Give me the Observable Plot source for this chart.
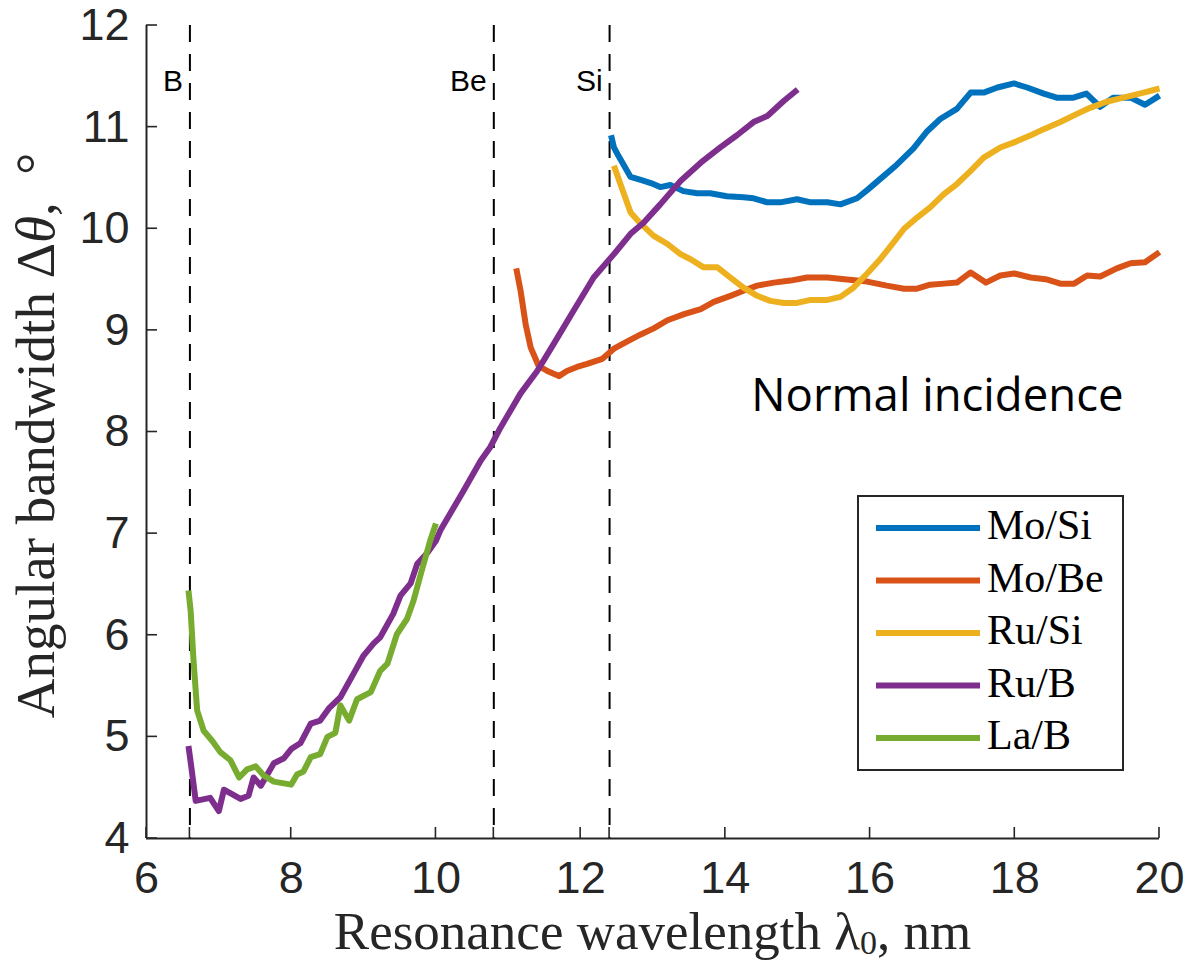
<!DOCTYPE html>
<html>
<head>
<meta charset="utf-8">
<script src="https://cdn.jsdelivr.net/npm/d3@7"></script>
<script src="https://cdn.jsdelivr.net/npm/@observablehq/plot@0.6"></script>
<style>
  body { margin: 0; background: #fff; }
</style>
</head>
<body>
<div id="chart"></div>
<script>
// Multilayer mirror angular bandwidth vs. resonance wavelength (normal incidence)
const seriesNames = ["Mo/Si", "Mo/Be", "Ru/Si", "Ru/B", "La/B"];
const seriesColors = ["#0072BD", "#D95319", "#EDB120", "#7E2F8E", "#77AC30"];

// [wavelength nm, bandwidth deg]
const moSi = [
  [12.42,10.92],[12.46,10.80],[12.52,10.72],[12.57,10.66],[12.69,10.51],[12.83,10.48],[12.97,10.45],
  [13.10,10.41],[13.24,10.43],[13.42,10.37],[13.61,10.35],[13.79,10.35],[14.02,10.32],[14.25,10.31],
  [14.39,10.30],[14.58,10.26],[14.76,10.26],[14.99,10.29],[15.18,10.26],[15.41,10.26],[15.59,10.24],
  [15.82,10.30],[15.96,10.38],[16.19,10.52],[16.37,10.63],[16.60,10.79],[16.79,10.96],[16.97,11.08],
  [17.20,11.18],[17.39,11.34],[17.57,11.34],[17.76,11.39],[17.99,11.43],[18.17,11.39],[18.40,11.33],
  [18.58,11.29],[18.81,11.29],[18.99,11.33],[19.18,11.20],[19.36,11.29],[19.60,11.29],[19.80,11.22],
  [20.00,11.31]
];
const moBe = [
  [11.11,9.61],[11.17,9.39],[11.24,9.06],[11.31,8.83],[11.42,8.65],[11.54,8.60],[11.70,8.55],
  [11.81,8.60],[11.95,8.64],[12.09,8.67],[12.30,8.72],[12.46,8.82],[12.64,8.89],[12.83,8.96],
  [13.01,9.02],[13.20,9.10],[13.43,9.16],[13.66,9.21],[13.84,9.28],[14.07,9.34],[14.25,9.39],
  [14.44,9.44],[14.67,9.47],[14.90,9.49],[15.13,9.52],[15.41,9.52],[15.68,9.50],[15.96,9.48],
  [16.23,9.44],[16.47,9.41],[16.65,9.41],[16.83,9.45],[17.02,9.46],[17.20,9.47],[17.39,9.57],
  [17.60,9.47],[17.80,9.54],[17.99,9.56],[18.22,9.52],[18.45,9.50],[18.63,9.46],[18.82,9.46],
  [19.00,9.54],[19.18,9.53],[19.41,9.61],[19.60,9.66],[19.80,9.67],[20.00,9.77]
];
const ruSi = [
  [12.46,10.62],[12.50,10.54],[12.60,10.34],[12.69,10.16],[12.83,10.05],[13.01,9.93],[13.20,9.85],
  [13.38,9.75],[13.52,9.70],[13.70,9.62],[13.89,9.62],[14.07,9.52],[14.25,9.42],[14.44,9.34],
  [14.62,9.29],[14.81,9.27],[14.99,9.27],[15.18,9.30],[15.41,9.30],[15.59,9.33],[15.77,9.42],
  [15.96,9.56],[16.14,9.70],[16.33,9.87],[16.47,10.00],[16.65,10.11],[16.83,10.21],[17.02,10.34],
  [17.20,10.44],[17.39,10.57],[17.57,10.70],[17.80,10.80],[17.99,10.85],[18.22,10.92],[18.40,10.98],
  [18.63,11.05],[18.86,11.13],[19.04,11.19],[19.27,11.25],[19.50,11.29],[19.78,11.34],[20.00,11.38]
];
const ruB = [
  [6.58,4.91],[6.62,4.70],[6.68,4.37],[6.88,4.40],[7.00,4.27],[7.07,4.48],[7.30,4.39],[7.41,4.42],
  [7.48,4.60],[7.58,4.52],[7.76,4.74],[7.90,4.79],[8.00,4.88],[8.13,4.94],[8.27,5.13],[8.40,5.16],
  [8.52,5.28],[8.68,5.39],[8.86,5.62],[9.00,5.80],[9.14,5.92],[9.23,5.98],[9.41,6.21],[9.51,6.39],
  [9.65,6.51],[9.74,6.70],[9.88,6.81],[10.00,6.93],[10.06,7.03],[10.38,7.42],[10.62,7.72],
  [10.75,7.85],[10.89,8.04],[11.17,8.38],[11.40,8.60],[11.63,8.87],[11.90,9.19],[12.18,9.52],
  [12.46,9.75],[12.69,9.95],[12.87,10.06],[13.10,10.24],[13.38,10.47],[13.66,10.65],[13.93,10.80],
  [14.16,10.92],[14.39,11.05],[14.58,11.11],[14.81,11.26],[15.00,11.37]
];
const laB = [
  [6.58,6.44],[6.61,6.24],[6.65,5.75],[6.70,5.26],[6.79,5.06],[6.91,4.96],[7.02,4.85],[7.16,4.77],
  [7.28,4.60],[7.39,4.68],[7.51,4.71],[7.62,4.62],[7.76,4.56],[8.00,4.53],[8.08,4.63],[8.17,4.66],
  [8.27,4.80],[8.40,4.83],[8.50,5.00],[8.61,5.04],[8.68,5.31],[8.80,5.16],[8.91,5.37],[9.10,5.44],
  [9.23,5.65],[9.33,5.72],[9.46,6.01],[9.60,6.16],[9.69,6.34],[9.79,6.60],[9.92,6.93],[10.00,7.10]
];

// Absorption edges marked by dashed lines
const edgeNames = ["B", "Be", "Si"];
const edgeWavelengths = [6.6, 10.8, 12.4];

const xTicks = [6, 8, 10, 12, 14, 16, 18, 20];
const yTicks = [4, 5, 6, 7, 8, 9, 10, 11, 12];
const annotation = "Normal incidence";

const allSeries = [moSi, moBe, ruSi, ruB, laB];
const rows = allSeries.flatMap((pts, i) => pts.map(([x, y]) => ({series: seriesNames[i], x, y})));
const edges = edgeNames.map((name, i) => ({name, x: edgeWavelengths[i]}));

const W = 1187, H = 962;
const M = {left: 146, right: 28, top: 25, bottom: 124};
const axisColor = "#262626";
const tickFont = "'Liberation Sans', Arial, sans-serif";
const serifFont = "'Liberation Serif', 'DejaVu Serif', serif";
const fmt = d => String(d);

const svg = Plot.plot({
  width: W,
  height: H,
  marginLeft: M.left, marginRight: M.right, marginTop: M.top, marginBottom: M.bottom,
  x: {domain: [6, 20], label: null},
  y: {domain: [4, 12], label: null},
  color: {domain: seriesNames, range: seriesColors},
  style: {background: "white", overflow: "visible", color: axisColor},
  marks: [
    Plot.ruleX(edges, {x: "x", stroke: "#000", strokeWidth: 2, strokeDasharray: "17,12"}),
    Plot.line(rows, {x: "x", y: "y", z: "series", stroke: "series", strokeWidth: 6,
                     strokeLinejoin: "round", strokeLinecap: "butt"}),
    Plot.text(edges, {x: "x", text: "name", frameAnchor: "top", lineAnchor: "bottom", dy: 65, dx: -7,
                      textAnchor: "end", fontSize: 30, fill: "#000",
                      fontFamily: "'Liberation Sans', Arial, sans-serif"}),
    Plot.text([annotation], {text: d => d, frameAnchor: "top-right", textAnchor: "end", lineAnchor: "bottom",
                             dx: -36, dy: 385, fontSize: 45.5, fill: "#000",
                             fontFamily: "'Open Sans', 'Noto Sans', sans-serif"}),
    Plot.ruleX([6], {stroke: axisColor, strokeWidth: 2}),
    Plot.ruleY([4], {stroke: axisColor, strokeWidth: 2}),
    Plot.axisX(xTicks, {tickSize: 0, tickPadding: 23, tickFormat: fmt, fontSize: 45,
                        fontFamily: tickFont, fill: axisColor}),
    Plot.axisY(yTicks, {tickSize: 0, tickPadding: 17, tickFormat: fmt, fontSize: 45,
                        fontFamily: tickFont, fill: axisColor})
  ]
});

const sx = svg.scale("x"), sy = svg.scale("y");
const root = d3.select(svg);
const frameLeft = M.left, frameRight = W - M.right, frameTop = M.top, frameBottom = H - M.bottom;

// Inward tick marks (x ticks also at the edge positions)
const tickLen = 11;
const tg = root.append("g").attr("stroke", axisColor).attr("stroke-width", 1.6);
for (const v of xTicks.concat(edgeWavelengths)) {
  const px = sx.apply(v);
  tg.append("line").attr("x1", px).attr("x2", px).attr("y1", frameBottom).attr("y2", frameBottom - tickLen);
}
for (const v of yTicks) {
  const py = sy.apply(v);
  tg.append("line").attr("x1", frameLeft).attr("x2", frameLeft + tickLen).attr("y1", py).attr("y2", py);
}

// Axis titles
const xTitle = root.append("text")
  .attr("x", (frameLeft + frameRight) / 2).attr("y", frameBottom + 111)
  .attr("text-anchor", "middle").attr("font-family", serifFont).attr("font-size", 53).attr("fill", axisColor);
xTitle.append("tspan").text("Resonance wavelength ");
xTitle.append("tspan").text("λ");
xTitle.append("tspan").attr("font-size", 34).attr("dy", 5).text("0");
xTitle.append("tspan").attr("dy", -5).text(", nm");

const yTitle = root.append("text")
  .attr("transform", `translate(54,${(frameTop + frameBottom) / 2 + 4}) rotate(-90)`)
  .attr("text-anchor", "middle").attr("font-family", serifFont).attr("font-size", 55).attr("fill", axisColor);
yTitle.append("tspan").text("Angular bandwidth Δ");
yTitle.append("tspan").attr("font-style", "italic").text("θ");
yTitle.append("tspan").text(",  °");

// Legend
const legend = {right: frameRight - 36, top: 496, width: 265, rowGap: 52.5, pad: 32};
const lg = root.append("g");
const lx0 = legend.right - legend.width;
lg.append("rect")
  .attr("x", lx0).attr("y", legend.top)
  .attr("width", legend.width).attr("height", legend.pad * 2 + legend.rowGap * (seriesNames.length - 1))
  .attr("fill", "white").attr("stroke", axisColor).attr("stroke-width", 2);
seriesNames.forEach((name, i) => {
  const cy = legend.top + legend.pad + i * legend.rowGap;
  lg.append("line").attr("x1", lx0 + 18).attr("x2", lx0 + 122).attr("y1", cy).attr("y2", cy)
    .attr("stroke", seriesColors[i]).attr("stroke-width", 6);
  lg.append("text").attr("x", lx0 + 129).attr("y", cy + 11).attr("text-anchor", "start")
    .attr("font-family", serifFont).attr("font-size", 42).attr("fill", "#000").text(name);
});

document.getElementById("chart").appendChild(svg);
</script>
</body>
</html>
